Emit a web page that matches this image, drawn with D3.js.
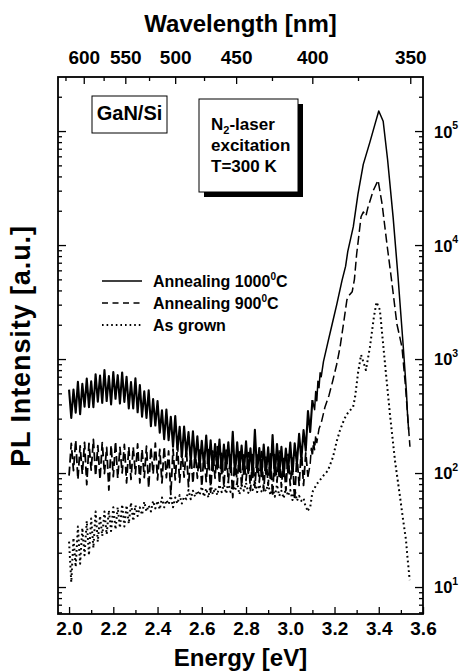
<!DOCTYPE html>
<html><head><meta charset="utf-8">
<script src="https://cdn.jsdelivr.net/npm/d3@7"></script>
<style>
body{margin:0;background:#fff}
svg text{font-family:"Liberation Sans",Arial,sans-serif;font-weight:bold;fill:#000}
</style>
</head><body>
<svg id="chart" width="459" height="671"></svg>
<script>
// ---------- DATA ----------
// noisy low-energy parts are sampled on a regular grid: 2.00 eV, step 0.01 eV
const gridStartEV = 2.00;
const gridStepEV = 0.01;

// Annealing 1000°C (solid)
const anneal1000Noisy = [540,304,540,338,630,328,606,382,673,379,638,378,736,422,715,413,802,428,710,399,
768,448,722,407,763,421,700,369,627,368,677,341,591,312,520,304,531,258,445,261,
428,226,355,198,361,194,312,170,316,161,254,138,256,146,229,126,232,126,210,112,
192,114,213,110,194,105,180,109,197,99,178,109,186,102,230,97,186,104,174,98,
190,100,165,92,240,102,166,94,178,98,168,90,215,95,180,94,170,94,164,101,
185,97,182,120,221,131,238,157,350,229,436];
const anneal1000Peak = [[3.11,360],[3.115,520],[3.12,430],[3.125,640],[3.13,560],[3.135,760],[3.14,700],
[3.15,950],[3.17,1400],[3.19,2050],[3.21,3000],[3.234,4900],[3.25,6500],[3.26,8800],[3.285,14500],
[3.306,28000],[3.33,51000],[3.36,80000],[3.383,115000],[3.40,150000],[3.42,122000],[3.44,56000],
[3.465,17500],[3.487,5300],[3.51,1350],[3.525,520],[3.53,330],[3.535,240]];

// Annealing 900°C (dashed)
const anneal900Noisy = [95,182,105,194,88,173,98,186,79,182,106,197,94,174,88,185,99,168,71,175,
93,189,90,168,100,178,82,169,88,169,98,180,82,161,91,172,74,168,98,183,
87,161,82,170,91,156,65,162,87,175,83,156,92,164,76,155,81,157,90,167,
76,150,84,160,68,156,90,170,81,149,76,159,84,144,61,150,80,161,76,144,
86,151,70,145,75,144,83,154,70,138,78,147,63,145,83,156,75,138,70,146,
78,135,58,144,78,161,78,150,93];
const anneal900Peak = [[3.09,120],[3.095,165],[3.10,140],[3.105,190],[3.11,160],[3.115,215],[3.12,185],
[3.13,245],[3.14,275],[3.157,380],[3.175,480],[3.193,655],[3.21,900],[3.225,1270],[3.24,2000],
[3.256,3300],[3.265,3600],[3.28,3900],[3.29,5000],[3.30,8300],[3.32,17700],[3.33,19500],[3.342,18000],
[3.35,21000],[3.375,30000],[3.397,37000],[3.415,23000],[3.437,10200],[3.46,4570],[3.482,2030],
[3.505,1270],[3.52,600],[3.53,330],[3.541,170]];

// As grown (dotted)
const asGrownNoisy = [25,11,27,15,34,16,33,19,38,19,40,22,46,25,42,28,46,29,47,31,
50,32,50,33,53,34,52,36,55,38,52,42,50,43,56,46,52,46,57,49,
57,48,61,50,58,53,63,50,61,54,64,54,62,59,71,59,70,62,70,64,
76,62,73,61,80,65,74,64,79,68,79,66,83,68,77,70,82,65,79,70,
82,67,75,71,84,68,79,69,76,69,81,64,74,62,79,63,70,60,74,63,
71,58,72,57,63,57,60,50,47];
const asGrownPeak = [[3.09,50],[3.10,68],[3.12,80],[3.15,95],[3.17,105],[3.193,138],[3.21,190],
[3.225,238],[3.245,300],[3.26,336],[3.284,380],[3.293,464],[3.306,750],[3.32,1090],[3.342,800],
[3.36,1270],[3.378,2340],[3.39,3160],[3.405,2700],[3.428,920],[3.45,336],[3.473,130],[3.496,62],
[3.51,39],[3.523,26],[3.53,18],[3.54,11.5]];

const energyMajorTicks = [2.0,2.2,2.4,2.6,2.8,3.0,3.2,3.4,3.6];
const energyMinorTicks = [2.1,2.3,2.5,2.7,2.9,3.1,3.3,3.5];
const wavelengthMajorTicks = [600,550,500,450,400,350];
const wavelengthMinorTicks = [625,575,525,475,425,375];
const intensityDecades = [1e1,1e2,1e3,1e4,1e5];
const decadeExponents = ["1","2","3","4","5"];
const intensityMinorTicks = [6,7,8,9,20,30,40,50,60,70,80,90,200,300,400,500,600,700,800,900,
2000,3000,4000,5000,6000,7000,8000,9000,20000,30000,40000,50000,60000,70000,80000,90000,200000];

const legendNames = [["Annealing 1000","0","C"],["Annealing 900","0","C"],["As grown","",""]];
const sampleLabel = "GaN/Si";
const excitationLines = [["N","2","-laser"],["excitation","",""],["T=300 K","",""]];
const hc = 1239.84; // eV·nm

// ---------- CHART ----------
const svg = d3.select("#chart");
const L = 58, R = 423, T = 77, B = 614;
const x = d3.scaleLinear().domain([1.95, 3.6]).range([L, R]);
const y = d3.scaleLog().domain([5.8, 2.98e5]).range([B, T]);

function styleAxis(g){
  g.attr("font-family", null).attr("font-size", null);
  g.select(".domain").remove();
  g.selectAll(".tick line").attr("stroke","#000").attr("stroke-width",1.3);
}

// bottom axis
svg.append("g").attr("transform",`translate(0,${B})`)
  .call(d3.axisBottom(x).tickValues(energyMajorTicks).tickSize(-7).tickPadding(8).tickFormat(d3.format(".1f")))
  .call(styleAxis).selectAll("text").attr("font-size",19);
svg.append("g").attr("transform",`translate(0,${B})`)
  .call(d3.axisBottom(x).tickValues(energyMinorTicks).tickSize(-4).tickFormat(""))
  .call(styleAxis);

// top axis (wavelength)
svg.append("g").attr("transform",`translate(0,${T})`)
  .call(d3.axisTop(x).tickValues(wavelengthMajorTicks.map(l=>hc/l)).tickSize(-7).tickPadding(13)
    .tickFormat((d,i)=>wavelengthMajorTicks[i]))
  .call(styleAxis).selectAll("text").attr("font-size",19);
svg.append("g").attr("transform",`translate(0,${T})`)
  .call(d3.axisTop(x).tickValues(wavelengthMinorTicks.map(l=>hc/l)).tickSize(-4).tickFormat(""))
  .call(styleAxis);

// left axis (no labels)
svg.append("g").attr("transform",`translate(${L},0)`)
  .call(d3.axisLeft(y).tickValues(intensityDecades).tickSize(-8).tickFormat(""))
  .call(styleAxis);
svg.append("g").attr("transform",`translate(${L},0)`)
  .call(d3.axisLeft(y).tickValues(intensityMinorTicks).tickSize(-4).tickFormat(""))
  .call(styleAxis);

// right axis with 10^n labels
const rightAx = svg.append("g").attr("transform",`translate(${R},0)`)
  .call(d3.axisRight(y).tickValues(intensityDecades).tickSize(-8).tickPadding(11).tickFormat(""))
  .call(styleAxis);
rightAx.selectAll(".tick text").each(function(d,i){
  const t = d3.select(this).attr("font-size",16.5).attr("dy","0.36em");
  t.append("tspan").text("10");
  t.append("tspan").attr("font-size",10.5).attr("dy","-0.8em").text(decadeExponents[i]);
});
svg.append("g").attr("transform",`translate(${R},0)`)
  .call(d3.axisRight(y).tickValues(intensityMinorTicks).tickSize(-4).tickFormat(""))
  .call(styleAxis);

// frame
svg.append("rect").attr("x",L).attr("y",T).attr("width",R-L).attr("height",B-T)
  .attr("fill","none").attr("stroke","#000").attr("stroke-width",1.8);

// axis titles
svg.append("text").attr("x",(L+R)/2).attr("y",32).attr("text-anchor","middle").attr("font-size",24).text("Wavelength [nm]");
svg.append("text").attr("x",(L+R)/2).attr("y",666).attr("text-anchor","middle").attr("font-size",24).text("Energy [eV]");
svg.append("text").attr("transform","translate(30,346) rotate(-90)").attr("text-anchor","middle")
  .attr("font-size",27).attr("letter-spacing",0.9).text("PL Intensity [a.u.]");

// curves: noisy grid part drawn with a heavier pen, band edge part with a normal pen
const gridPts = noisy => noisy.map((v,i)=>[gridStartEV + i*gridStepEV, v]);
const line = d3.line().x(d=>x(d[0])).y(d=>y(d[1]));
const series = [
  {noisy: anneal1000Noisy, peak: anneal1000Peak, dash: null, wN: 2.1, w: 1.5, legendDash: null, lw: 1.3},
  {noisy: anneal900Noisy, peak: anneal900Peak, dash: "9,4", wN: 1.8, w: 1.5, legendDash: "6,4.5", lw: 1.3},
  {noisy: asGrownNoisy, peak: asGrownPeak, dash: "1.8,3", wN: 2, w: 2, legendDash: "1.6,3", lw: 1.8}
];
series.forEach(s=>{
  const g = gridPts(s.noisy);
  svg.append("path").attr("d", line(g)).attr("fill","none").attr("stroke","#000")
    .attr("stroke-width", s.wN).attr("stroke-dasharray", s.dash).attr("stroke-linejoin","round");
  svg.append("path").attr("d", line([g[g.length-1]].concat(s.peak))).attr("fill","none").attr("stroke","#000")
    .attr("stroke-width", s.w).attr("stroke-dasharray", s.dash).attr("stroke-linejoin","round");
});

// legend
const legendY = [281, 303, 325];
legendNames.forEach((n,i)=>{
  svg.append("line").attr("x1",102).attr("x2",142).attr("y1",legendY[i]).attr("y2",legendY[i])
    .attr("stroke","#000").attr("stroke-width", series[i].lw).attr("stroke-dasharray", series[i].legendDash);
  const t = svg.append("text").attr("x",153).attr("y",legendY[i]+6).attr("font-size",16);
  t.append("tspan").text(n[0]);
  if(n[1]){
    t.append("tspan").attr("font-size",10).attr("dy",-7).text(n[1]);
    t.append("tspan").attr("dy",7).text(n[2]);
  }
});

// GaN/Si box
svg.append("rect").attr("x",92).attr("y",96).attr("width",75).attr("height",37)
  .attr("fill","#fff").attr("stroke","#000").attr("stroke-width",1);
svg.append("text").attr("x",129.5).attr("y",120).attr("text-anchor","middle").attr("font-size",20).text(sampleLabel);

// excitation box with shadow
svg.append("rect").attr("x",204).attr("y",104).attr("width",99).attr("height",93).attr("fill","#000");
svg.append("rect").attr("x",199).attr("y",99).attr("width",99).attr("height",93)
  .attr("fill","#fff").attr("stroke","#000").attr("stroke-width",1);
const exY = [130, 151, 172];
excitationLines.forEach((l,i)=>{
  const t = svg.append("text").attr("x",211).attr("y",exY[i]).attr("font-size",17);
  t.append("tspan").text(l[0]);
  if(l[1]){
    t.append("tspan").attr("font-size",11).attr("dy",4).text(l[1]);
    t.append("tspan").attr("dy",-4).text(l[2]);
  }
});
</script>
</body></html>
